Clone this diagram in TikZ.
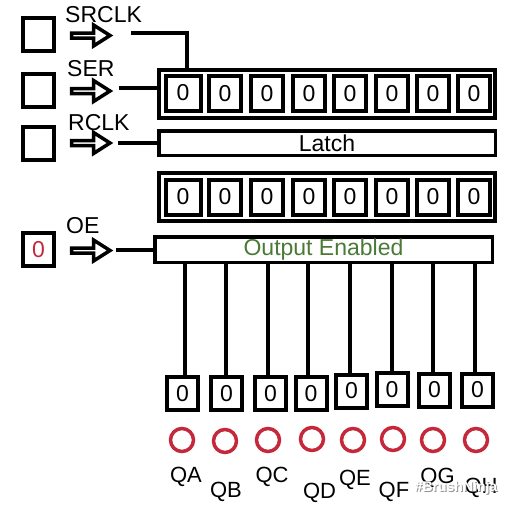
\documentclass[tikz,border=0pt]{standalone}
\usepackage{fontspec}
\setmainfont{Liberation Sans}
\definecolor{qred}{HTML}{C4283A}
\definecolor{oegreen}{HTML}{4A7A35}
\begin{document}
\begin{tikzpicture}[x=1pt,y=-1pt,
 inbox/.style={draw,line width=4pt,minimum width=31pt,minimum height=33pt,inner sep=0pt,font=\fontsize{23}{23}\selectfont},
 cell/.style={draw,line width=4pt,minimum width=32pt,minimum height=35pt,inner sep=0pt,font=\fontsize{23}{23}\selectfont},
 bcell/.style={draw,line width=4pt,minimum width=31pt,minimum height=33pt,inner sep=0pt,font=\fontsize{23}{23}\selectfont},
 regbox/.style={draw,line width=4pt,minimum width=336pt,minimum height=48pt,inner sep=0pt},
 bar/.style={draw,line width=3.5pt,inner sep=0pt,font=\fontsize{23}{23}\selectfont},
 lbl/.style={font=\fontsize{23}{23}\selectfont,inner sep=0pt,anchor=base west},
 qlbl/.style={font=\fontsize{22}{22}\selectfont,inner sep=0pt,anchor=base},
 wire/.style={line width=3.5pt},
 led/.style={circle,draw=qred,line width=3.5pt,minimum size=23pt,inner sep=0pt},
 hollowarrow/.pic={\draw[line width=3.5pt,line join=miter] (0,-2.5) -- (22,-2.5) -- (22,-10.5) -- (38.5,0) -- (22,10.5) -- (22,2.5) -- (0,2.5) -- cycle;}]
\useasboundingbox (0,0) rectangle (512,512);
\fill[white] (0,0) rectangle (512,512);

% input boxes
\node[inbox] (inSRCLK) at (38.5,34.5) {};
\node[inbox] (inSER) at (38.5,90) {};
\node[inbox] (inRCLK) at (38.5,143) {};
\node[inbox,text=qred] (inOE) at (38.5,249.5) {0};

% labels
\node[lbl] (lSRCLK) at (65,22) {SRCLK};
\node[lbl] (lSER) at (67,76) {SER};
\node[lbl] (lRCLK) at (68,130) {RCLK};
\node[lbl] (lOE) at (66,233) {OE};

% hollow arrows
\pic at (71.5,35.5) {hollowarrow};
\pic at (71.5,91) {hollowarrow};
\pic at (71.5,143) {hollowarrow};
\pic at (71.5,250.5) {hollowarrow};

% wire start points
\coordinate (wSRCLK) at (131,33);
\coordinate (wSER) at (119,88);
\coordinate (wRCLK) at (118,143);
\coordinate (wOE) at (116,250);
\coordinate (srtap) at (187,0);

% shift register
\node[regbox] (reg1) at (327,93.5) {};
\node[cell,minimum width=35pt] (ra1) at (183,93.5) {\raisebox{2pt}{0}};
\foreach \i/\x in {2/225,3/267,4/309,5/350,6/392,7/433,8/474}{
  \node[cell] (ra\i) at (\x,93.5) {\raisebox{-5pt}{0}};
}
% latch
\node[bar,minimum width=336.5pt,minimum height=24.5pt] (latch) at (327,143) {Latch};
% storage register
\node[regbox] (reg2) at (327,197) {};
\node[cell,minimum width=35pt] (rb1) at (183,197) {\raisebox{2pt}{0}};
\foreach \i/\x in {2/225,3/267,4/309,5/350,6/392,7/433,8/474}{
  \node[cell] (rb\i) at (\x,197) {\raisebox{-5pt}{0}};
}
% output enabled
\node[bar,minimum width=337.5pt,minimum height=25.5pt,text=oegreen] (oebar) at (323.5,249.5) {\raisebox{-4pt}{Output Enabled}};

% wires
\draw[wire] (wSRCLK) -| (srtap |- reg1.north);
\draw[wire] (wSER) -- (wSER -| reg1.west);
\draw[wire] (wRCLK) -- (wRCLK -| latch.west);
\draw[wire] (wOE) -- (wOE -| oebar.west);

% output cells
\foreach \i/\x/\y in {1/182.5/393.5,2/226.5/393.5,3/270.5/393.5,4/311/393.5,5/351.5/391,6/392/389.5,7/434.5/390,8/477.5/390}{
  \node[bcell] (qc\i) at (\x,\y) {0};
}
\foreach \i/\lx in {1/185,2/226,3/268,4/308,5/350,6/392,7/433,8/475}{
  \coordinate (lx\i) at (\lx,0);
  \draw[wire] (lx\i |- oebar.south) -- (lx\i |- qc\i.north);
}

% LEDs
\foreach \i/\x/\y in {1/182/440,2/225/441,3/268/440,4/312/439,5/353/440,6/393/439,7/433/440,8/476/440}{
  \node[led] (led\i) at (\x,\y) {};
}

% output labels
\node[qlbl] (QA) at (186,482) {QA};
\node[qlbl] (QB) at (226,497) {QB};
\node[qlbl] (QC) at (272,482) {QC};
\node[qlbl] (QD) at (319.5,498) {QD};
\node[qlbl] (QE) at (355,485) {QE};
\node[qlbl] (QF) at (394,497) {QF};
\node[qlbl] (QG) at (437.5,483) {QG};
\node[qlbl] (QH) at (481,493) {QH};

% watermark
\node[font=\bfseries\fontsize{14}{14}\selectfont,text=black!60,opacity=0.7,inner sep=0pt] (wmshadow) at (457,489) {\#BrushNinja};
\node[font=\bfseries\fontsize{14}{14}\selectfont,text=white,inner sep=0pt] (wm) at (456,488) {\#BrushNinja};
\end{tikzpicture}
\end{document}
